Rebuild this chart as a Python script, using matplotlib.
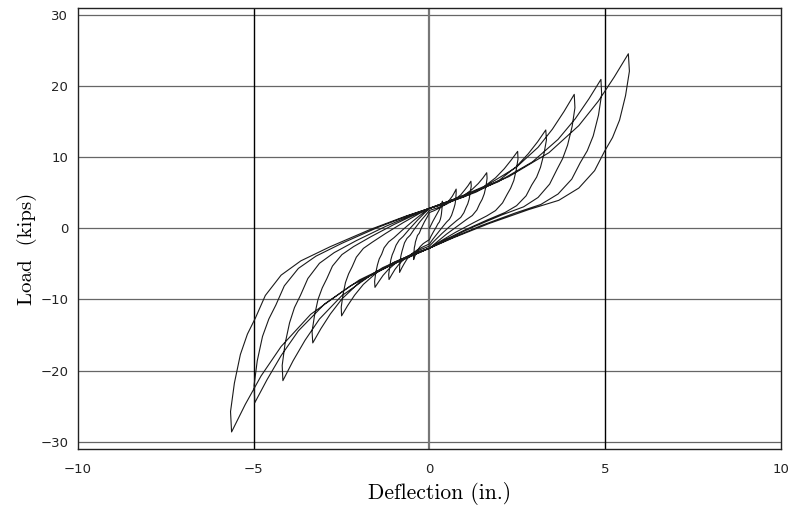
import numpy as np
import matplotlib.pyplot as plt

# ---------------------------------------------------------------------------
# Load-deflection history (in., kips).
# One list pair per cycle: from previous negative peak -> positive peak -> negative peak
# ---------------------------------------------------------------------------
defl_c0 = [0, 0.10, 0.20, 0.28, 0.33, 0.37,
           0.37, 0.36, 0.35, 0.34, 0.33, 0.31, 0.28, 0.24, 0.19, 0.11, 0.04, 0,
           -0.09, -0.18, -0.27, -0.34, -0.38, -0.42, -0.45]
load_c0 = [0, 1.0, 1.9, 2.6, 3.2, 3.8,
           3.42, 2.89, 2.36, 1.98, 1.67, 1.25, 0.87, 0.61, 0.14, -0.53, -1.16, -1.6,
           -1.87, -2.17, -2.61, -3.10, -3.55, -3.98, -4.4]

defl_c1 = [-0.45, -0.44, -0.43, -0.41, -0.40, -0.37, -0.34, -0.29, -0.23, -0.14, -0.05, 0,
           0.15, 0.30, 0.46, 0.57, 0.65, 0.71, 0.76,
           0.76, 0.75, 0.73, 0.70, 0.67, 0.63, 0.57, 0.49, 0.38, 0.23, 0.09, 0,
           -0.17, -0.34, -0.51, -0.64, -0.72, -0.79, -0.85]
load_c1 = [-3.96, -3.34, -2.73, -2.29, -1.94, -1.45, -1.01, -0.70, 0.02, 0.93, 1.70, 2.2,
           2.51, 2.88, 3.39, 3.97, 4.49, 5.01, 5.5,
           4.95, 4.18, 3.41, 2.86, 2.42, 1.82, 1.27, 0.88, 0.23, -0.70, -1.58, -2.2,
           -2.58, -3.02, -3.64, -4.34, -4.98, -5.60, -6.2]

defl_c2 = [-0.85, -0.84, -0.81, -0.78, -0.75, -0.71, -0.64, -0.55, -0.43, -0.26, -0.10, 0,
           0.24, 0.47, 0.71, 0.89, 1.00, 1.10, 1.18,
           1.19, 1.16, 1.13, 1.09, 1.04, 0.98, 0.89, 0.77, 0.59, 0.35, 0.14, 0,
           -0.23, -0.46, -0.69, -0.86, -0.98, -1.07, -1.15]
load_c2 = [-5.58, -4.71, -3.84, -3.22, -2.73, -2.05, -1.43, -0.99, -0.12, 0.98, 1.90, 2.5,
           2.89, 3.34, 3.98, 4.69, 5.35, 5.99, 6.6,
           5.94, 5.02, 4.09, 3.43, 2.90, 2.18, 1.52, 1.06, 0.31, -0.76, -1.78, -2.5,
           -2.95, -3.46, -4.19, -5.01, -5.77, -6.50, -7.2]

defl_c3 = [-1.16, -1.13, -1.10, -1.06, -1.01, -0.95, -0.86, -0.75, -0.58, -0.35, -0.14, 0,
           0.33, 0.65, 0.98, 1.22, 1.39, 1.52, 1.63,
           1.64, 1.61, 1.56, 1.50, 1.43, 1.35, 1.22, 1.06, 0.82, 0.49, 0.20, 0,
           -0.31, -0.62, -0.93, -1.16, -1.32, -1.44, -1.55]
load_c3 = [-6.48, -5.47, -4.46, -3.74, -3.17, -2.38, -1.66, -1.15, -0.17, 1.08, 2.13, 2.8,
           3.28, 3.83, 4.60, 5.48, 6.28, 7.05, 7.8,
           7.02, 5.93, 4.84, 4.06, 3.43, 2.57, 1.79, 1.25, 0.39, -0.81, -1.98, -2.8,
           -3.32, -3.93, -4.78, -5.74, -6.62, -7.48, -8.3]

defl_c4 = [-1.56, -1.53, -1.48, -1.43, -1.36, -1.29, -1.16, -1.01, -0.78, -0.47, -0.19, 0,
           0.50, 1.00, 1.51, 1.88, 2.13, 2.33, 2.51,
           2.52, 2.47, 2.40, 2.31, 2.21, 2.08, 1.88, 1.63, 1.26, 0.75, 0.30, 0,
           -0.50, -1.00, -1.50, -1.88, -2.13, -2.33, -2.50]
load_c4 = [-7.47, -6.31, -5.15, -4.32, -3.65, -2.74, -1.91, -1.33, -0.30, 1.01, 2.11, 2.8,
           3.56, 4.44, 5.68, 7.08, 8.36, 9.60, 10.8,
           9.72, 8.21, 6.70, 5.62, 4.75, 3.56, 2.48, 1.73, 0.79, -0.55, -1.86, -2.8,
           -3.70, -4.75, -6.22, -7.88, -9.40, -10.88, -12.3]

defl_c5 = [-2.51, -2.46, -2.39, -2.30, -2.20, -2.08, -1.88, -1.63, -1.25, -0.75, -0.30, 0,
           0.66, 1.32, 1.99, 2.48, 2.81, 3.08, 3.31,
           3.33, 3.26, 3.16, 3.05, 2.91, 2.75, 2.48, 2.15, 1.66, 0.99, 0.40, 0,
           -0.66, -1.33, -1.99, -2.49, -2.82, -3.09, -3.32]
load_c5 = [-11.07, -9.35, -7.63, -6.40, -5.41, -4.06, -2.83, -1.97, -0.74, 0.78, 2.03, 2.8,
           3.85, 5.06, 6.76, 8.69, 10.45, 12.15, 13.8,
           12.42, 10.49, 8.56, 7.18, 6.07, 4.55, 3.17, 2.21, 1.20, -0.28, -1.74, -2.8,
           -4.06, -5.53, -7.59, -9.92, -12.04, -14.11, -16.1]

defl_c6 = [-3.34, -3.27, -3.17, -3.05, -2.92, -2.76, -2.49, -2.16, -1.66, -1.00, -0.40, 0,
           0.82, 1.65, 2.47, 3.09, 3.50, 3.83, 4.12,
           4.14, 4.06, 3.93, 3.79, 3.63, 3.42, 3.09, 2.68, 2.06, 1.24, 0.49, 0,
           -0.83, -1.67, -2.50, -3.13, -3.54, -3.88, -4.17]
load_c6 = [-14.49, -12.24, -9.98, -8.37, -7.08, -5.31, -3.70, -2.58, -1.17, 0.55, 1.94, 2.8,
           4.32, 6.08, 8.56, 11.36, 13.92, 16.40, 18.8,
           16.92, 14.29, 11.66, 9.78, 8.27, 6.20, 4.32, 3.01, 1.87, 0.16, -1.56, -2.8,
           -4.57, -6.61, -9.50, -12.75, -15.73, -18.61, -21.4]

defl_c7 = [-4.19, -4.11, -3.98, -3.84, -3.67, -3.46, -3.13, -2.71, -2.09, -1.25, -0.50, 0,
           0.98, 1.95, 2.93, 3.66, 4.15, 4.54, 4.88,
           4.90, 4.81, 4.66, 4.49, 4.29, 4.05, 3.66, 3.17, 2.44, 1.46, 0.59, 0,
           -0.99, -1.99, -2.98, -3.73, -4.22, -4.62, -4.97]
load_c7 = [-19.26, -16.26, -13.27, -11.13, -9.42, -7.06, -4.92, -3.42, -1.76, 0.25, 1.84, 2.8,
           4.52, 6.51, 9.32, 12.48, 15.38, 18.19, 20.9,
           18.81, 15.88, 12.96, 10.87, 9.20, 6.90, 4.81, 3.34, 2.14, 0.35, -1.47, -2.8,
           -4.86, -7.25, -10.61, -14.41, -17.88, -21.25, -24.5]

defl_c8 = [-4.99, -4.90, -4.75, -4.57, -4.37, -4.13, -3.73, -3.23, -2.49, -1.49, -0.60, 0,
           1.13, 2.26, 3.40, 4.25, 4.81, 5.26, 5.66,
           5.69, 5.58, 5.41, 5.21, 4.98, 4.70, 4.25, 3.68, 2.83, 1.70, 0.68, 0,
           -1.13, -2.25, -3.38, -4.22, -4.79, -5.24, -5.63]
load_c8 = [-22.05, -18.62, -15.19, -12.74, -10.78, -8.09, -5.64, -3.92, -2.11, 0.07, 1.78, 2.8,
           4.86, 7.25, 10.61, 14.41, 17.88, 21.25, 24.5,
           22.05, 18.62, 15.19, 12.74, 10.78, 8.09, 5.64, 3.92, 2.63, 0.67, -1.34, -2.8,
           -5.25, -8.09, -12.09, -16.60, -20.73, -24.73, -28.6]

# final unloading after the last negative peak
defl_end = [-5.66, -5.55, -5.38, -5.18, -4.95, -4.67, -4.22, -3.66, -2.82, -1.69, -0.68, 0]
load_end = [-25.74, -21.74, -17.73, -14.87, -12.58, -9.44, -6.58, -4.58, -2.58, -0.18, 1.69, 2.8]

X_TICKS = [-10, -5, 0, 5, 10]
Y_TICKS = [-30, -20, -10, 0, 10, 20, 30]

# ---------------------------------------------------------------------------
defl = np.concatenate([defl_c0, defl_c1, defl_c2, defl_c3, defl_c4,
                       defl_c5, defl_c6, defl_c7, defl_c8, defl_end])
load = np.concatenate([load_c0, load_c1, load_c2, load_c3, load_c4,
                       load_c5, load_c6, load_c7, load_c8, load_end])

fig = plt.figure(figsize=(7.96, 5.12), dpi=100)
ax = fig.add_axes([0.098, 0.123, 0.883, 0.861])

# grid: horizontal grey lines, vertical black lines (0 is grey and heavier)
for yv in Y_TICKS:
    ax.axhline(yv, color='#666666', lw=0.9, zorder=1)
for xv in [-5, 5]:
    ax.axvline(xv, color='black', lw=1.0, zorder=1)
ax.axvline(0, color='#777777', lw=1.6, zorder=1)

ax.plot(defl, load, color='#1a1a1a', lw=0.8, zorder=3)

ax.set_xlim(-10, 10)
ax.set_ylim(-31.0, 30.9)
ax.set_xticks(X_TICKS)
ax.set_yticks(Y_TICKS)
ax.tick_params(length=0, labelsize=9.5, colors='#222222')
ax.tick_params(axis='x', pad=10)
ax.tick_params(axis='y', pad=7)
for sp in ax.spines.values():
    sp.set_linewidth(1.0)
    sp.set_color('#222222')

ax.set_xlabel('Deflection (in.)', family='cmr10', fontsize=15.5)
ax.set_ylabel('Load  (kips)', family='cmr10', fontsize=15)
ax.xaxis.set_label_coords(0.515, -0.074)
ax.yaxis.set_label_coords(-0.058, 0.455)

fig.savefig('out.png', dpi=100, facecolor='white')
